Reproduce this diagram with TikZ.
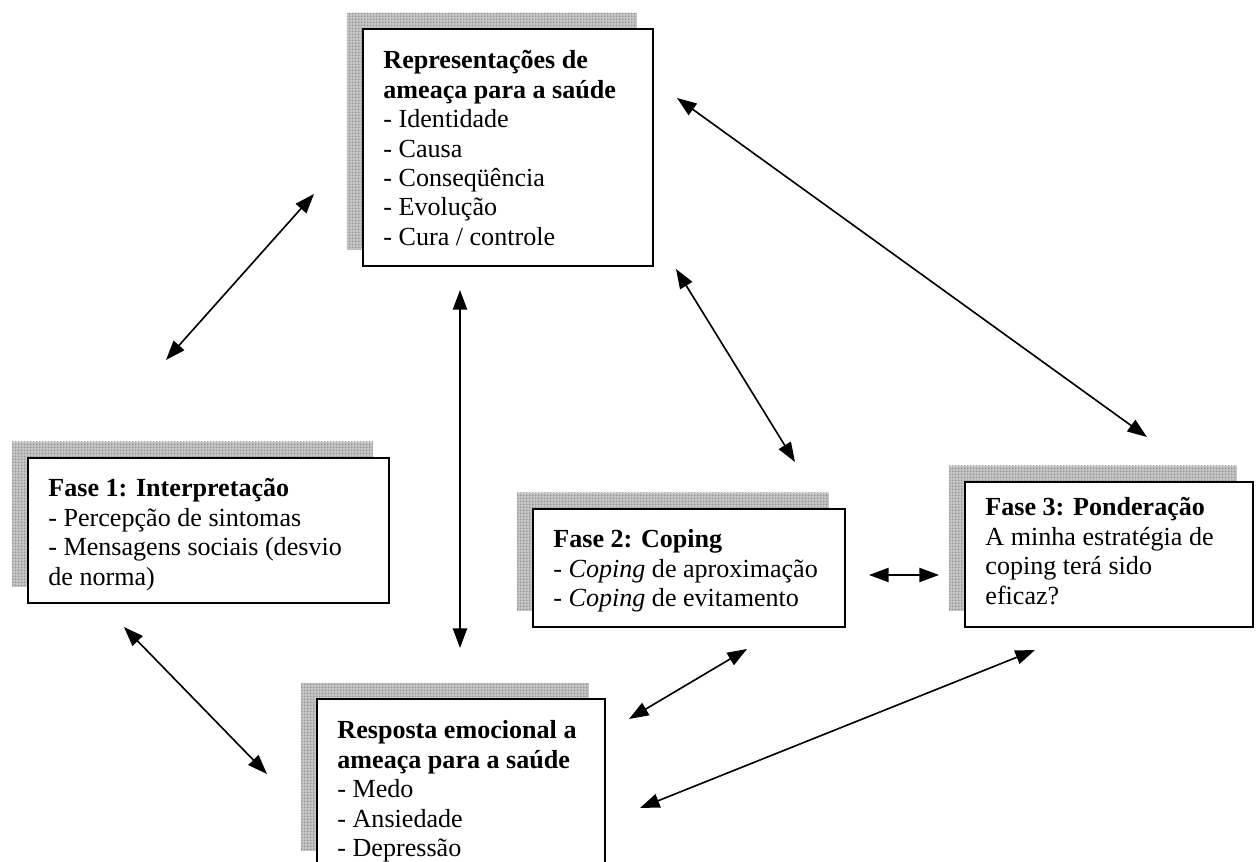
\documentclass[tikz,border=0pt]{standalone}
\usepackage{fontspec}
\setmainfont{Liberation Serif}
\usetikzlibrary{arrows.meta,shadows,patterns.meta}

\tikzdeclarepattern{
  name=finegrid,
  type=uncolored,
  bounding box={(0pt,0pt) and (1.4pt,1.4pt)},
  tile size={(1.4pt,1.4pt)},
  code={
    \pgfsetlinewidth{0.3pt}
    \pgfpathmoveto{\pgfpoint{0pt}{0.15pt}}
    \pgfpathlineto{\pgfpoint{1.4pt}{0.15pt}}
    \pgfpathmoveto{\pgfpoint{0.15pt}{0pt}}
    \pgfpathlineto{\pgfpoint{0.15pt}{1.4pt}}
    \pgfusepath{stroke}
  }
}

\newcommand\px{0.46pt}

\begin{document}
\begin{tikzpicture}[x=\px,y=-\px,>={Triangle[length=9pt,width=6.5pt]},<->]
   \useasboundingbox (0,0) rectangle (1257,862);
   \tikzstyle{box}=[draw=black, line width=0.8pt, fill=white, anchor=north west, inner sep=0pt,
      general shadow={shadow xshift=-16*\px, shadow yshift=16*\px, fill=gray!45,
         postaction={pattern=finegrid, pattern color=gray}}]
   \tikzstyle{txt}=[anchor=north west, align=left, inner sep=0pt, font=\fontsize{12}{13.5}\selectfont]
   \tikzstyle{link}=[line width=0.75pt]
   % boxes with shadows
   \node[box, minimum width=290*\px, minimum height=237*\px] (rep) at (362,28) {};
   \node[box, minimum width=361*\px, minimum height=145*\px] (fase1) at (27,457) {};
   \node[box, minimum width=312*\px, minimum height=118*\px] (fase2) at (532,508) {};
   \node[box, minimum width=288*\px, minimum height=145*\px] (fase3) at (964,481) {};
   \node[box, minimum width=288*\px, minimum height=168*\px] (resp) at (316,698) {};
   % texts
   \node[txt] (reptxt) at (383,48) {\strut\textbf{Representações de}\\\textbf{ameaça para a saúde}\\- Identidade\\- Causa\\- Conseqüência\\- Evolução\\- Cura / controle};
   \node[txt] (fase1txt) at (48,476) {\strut\textbf{Fase 1: Interpretação}\\- Percepção de sintomas\\- Mensagens sociais (desvio\\de norma)};
   \node[txt] (fase2txt) at (553,527) {\strut\textbf{Fase 2: Coping}\\- \textit{Coping} de aproximação\\- \textit{Coping} de evitamento};
   \node[txt] (fase3txt) at (985,495) {\strut\textbf{Fase 3: Ponderação}\\A minha estratégia de\\coping terá sido\\eficaz?};
   \node[txt] (resptxt) at (337,718) {\strut\textbf{Resposta emocional a}\\\textbf{ameaça para a saúde}\\- Medo\\- Ansiedade\\- Depressão};
   % arrow ends
   \coordinate (rep1) at (314,194);   \coordinate (f1a) at (166,360);
   \coordinate (rep2) at (460,290);   \coordinate (resp2) at (460,648);
   \coordinate (rep3) at (676,269);   \coordinate (f2a) at (795,462);
   \coordinate (rep4) at (677,98);    \coordinate (f3a) at (1147,437);
   \coordinate (f1b) at (124,627);    \coordinate (resp5) at (267,774);
   \coordinate (f2b) at (869,575);    \coordinate (f3b) at (939,575);
   \coordinate (resp7) at (629,719);  \coordinate (f2c) at (747,649);
   \coordinate (resp8) at (640,808);  \coordinate (f3c) at (1035,650);
   \foreach \a/\b in {rep1/f1a,rep2/resp2,rep3/f2a,rep4/f3a,f1b/resp5,f2b/f3b,resp7/f2c,resp8/f3c} {
       \path (\a) edge[link] (\b);
   }
\end{tikzpicture}
\end{document}
